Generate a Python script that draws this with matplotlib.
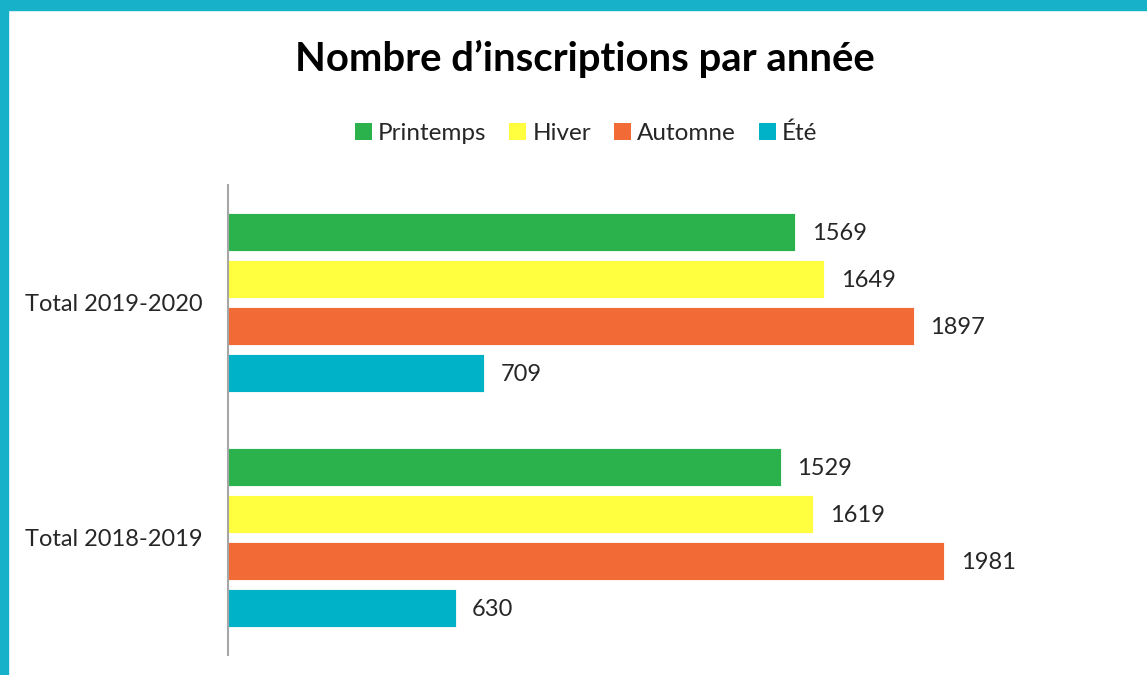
import matplotlib
matplotlib.use("Agg")
import matplotlib.pyplot as plt
from matplotlib.patches import Rectangle, Patch
import numpy as np

categories = ["Total 2018-2019", "Total 2019-2020"]
series_names = ["Printemps", "Hiver", "Automne", "Été"]
printemps = [1529, 1569]
hiver = [1619, 1649]
automne = [1981, 1897]
ete = [630, 709]
colors = ["#2BB24C", "#FFFF3F", "#F26B36", "#00B2C8"]

plt.rcParams['font.family'] = ['Lato', 'DejaVu Sans']

W, H = 1147, 675
fig = plt.figure(figsize=(W / 100, H / 100), dpi=100)
fig.patch.set_facecolor("white")

# border bands
fig.patches.append(Rectangle((0, 1 - 10 / H), 1, 10 / H, transform=fig.transFigure,
                             color="#17B2CA", zorder=10))
fig.patches.append(Rectangle((0, 0), 8 / W, 1, transform=fig.transFigure,
                             color="#17B2CA", zorder=10))

ax = fig.add_axes([228 / W, 20 / H, (1132 - 228) / W, 470 / H])
series = [printemps, hiver, automne, ete]
offsets = [0.3, 0.1, -0.1, -0.3]
y = np.arange(len(categories))
for vals, off, col, name in zip(series, offsets, colors, series_names):
    bars = ax.barh(y + off, vals, height=0.163, color=col, edgecolor="white",
                   linewidth=0.6, label=name)
    for b, v in zip(bars, vals):
        ax.text(b.get_width() + 45, b.get_y() + b.get_height() / 2 - 0.008, str(v),
                va="center", ha="left", fontsize=17, color="#262626")

ax.set_xlim(0, 2500)
ax.set_ylim(-0.5, 1.5)
ax.set_yticks(y)
ax.set_yticklabels(categories, fontsize=17, color="#262626")
ax.tick_params(axis="y", length=0, pad=18)
ax.set_xticks([])
for s in ["top", "right", "bottom"]:
    ax.spines[s].set_visible(False)
ax.spines["left"].set_color("#A6A6A6")
ax.spines["left"].set_linewidth(1.5)

fig.text(585 / W, 1 - 59 / H, "Nombre d’inscriptions par année", ha="center",
         va="center", fontsize=28.8, fontweight="bold", color="black")

handles = [Patch(facecolor=c, edgecolor="none") for c in colors]
fig.legend(handles, series_names, loc="center", bbox_to_anchor=(586 / W, 1 - 133 / H),
           ncol=4, frameon=False, fontsize=17.5, handlelength=0.7, handleheight=0.7,
           handletextpad=0.25, columnspacing=0.95, labelcolor="#262626")

fig.savefig("out.png", dpi=100)
